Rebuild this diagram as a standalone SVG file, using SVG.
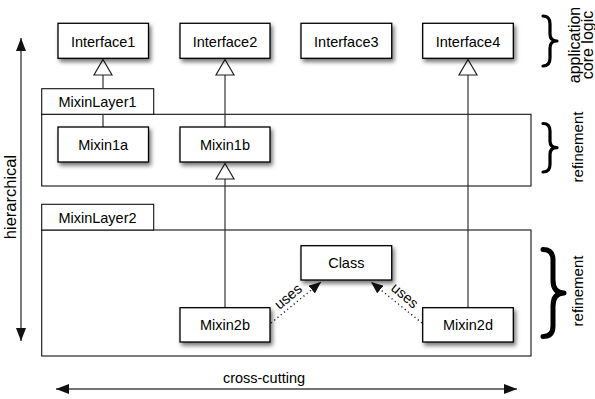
<svg xmlns="http://www.w3.org/2000/svg" width="595" height="399" viewBox="0 0 595 399">
<style>
text{font-family:"Liberation Sans",Arial,sans-serif;fill:#000}
.lbl{font-size:14.5px;text-anchor:middle}
.box{fill:#fff;stroke:#000;stroke-width:1.3;filter:url(#sh)}
.layer{fill:none;stroke:#111;stroke-width:1.1}
.tab{fill:#fff;stroke:#111;stroke-width:1.1}
.gen{fill:none;stroke:#333;stroke-width:1.2}
.tri{fill:#fff;stroke:#222;stroke-width:1.2}
.dot{fill:none;stroke:#222;stroke-width:1.4;stroke-dasharray:1.2 3}
.ax{fill:none;stroke:#444;stroke-width:1.4}
.brace{fill:none;stroke:#000;stroke-linecap:round;stroke-linejoin:round}
.side{text-anchor:middle}
</style>
<defs>
<filter id="sh" x="-20%" y="-30%" width="150%" height="180%">
<feDropShadow dx="2" dy="3" stdDeviation="2.2" flood-color="#000" flood-opacity="0.55"/>
</filter>
<marker id="fill" viewBox="0 0 12 10" refX="12" refY="5" markerWidth="12" markerHeight="10" markerUnits="userSpaceOnUse" orient="auto">
<path d="M0,0 L12,5 L0,10 Z" fill="#111"/>
</marker>
<marker id="ax" viewBox="0 0 13 10" refX="13" refY="5" markerWidth="13" markerHeight="10" markerUnits="userSpaceOnUse" orient="auto-start-reverse">
<path d="M0,0 L13,5 L0,10 Z" fill="#111"/>
</marker>
</defs>

<g id="MixinLayer1">
<rect class="layer" x="41.7" y="114.3" width="489.3" height="71.7"/>
<rect class="tab" x="41.7" y="88.7" width="112" height="25.6"/>
<text class="lbl" x="97.5" y="107.3">MixinLayer1</text>
</g>
<g id="MixinLayer2">
<rect class="layer" x="41.7" y="230" width="489.3" height="126"/>
<rect class="tab" x="41.7" y="204.3" width="112" height="25.7"/>
<text class="lbl" x="97.5" y="223.3">MixinLayer2</text>
</g>

<g id="connectors">
<path class="gen" d="M103,127 V114.3 M103,88.7 V75"/>
<path class="tri" d="M103,59.5 L112,75 L94,75 Z"/>
<path class="gen" d="M225,127 V75"/>
<path class="tri" d="M225,59.5 L234,75 L216,75 Z"/>
<path class="gen" d="M225,308 V179"/>
<path class="tri" d="M225,163.5 L234,179 L216,179 Z"/>
<path class="gen" d="M468,308 V75"/>
<path class="tri" d="M468,59.5 L477,75 L459,75 Z"/>
<path class="dot" d="M271,323 L321,282" marker-end="url(#fill)"/>
<path class="dot" d="M422,323 L371,282" marker-end="url(#fill)"/>
<text class="lbl" transform="translate(289,297.5) rotate(-40)" y="3.6">uses</text>
<text class="lbl" transform="translate(404,296.5) rotate(40)" y="3.6">uses</text>
</g>

<g id="Interface1"><rect class="box" x="58" y="23.3" width="90.5" height="35"/><text class="lbl" x="103.2" y="46.5">Interface1</text></g>
<g id="Interface2"><rect class="box" x="180" y="23.3" width="90" height="35"/><text class="lbl" x="225" y="46.5">Interface2</text></g>
<g id="Interface3"><rect class="box" x="301" y="23.3" width="90.7" height="35"/><text class="lbl" x="346.3" y="46.5">Interface3</text></g>
<g id="Interface4"><rect class="box" x="422.7" y="23.3" width="90.6" height="35"/><text class="lbl" x="468" y="46.5">Interface4</text></g>
<g id="Mixin1a"><rect class="box" x="58" y="127" width="90.5" height="35"/><text class="lbl" x="103.2" y="150">Mixin1a</text></g>
<g id="Mixin1b"><rect class="box" x="180" y="127" width="90" height="35"/><text class="lbl" x="225" y="150">Mixin1b</text></g>
<g id="Class"><rect class="box" x="301" y="245.7" width="90.7" height="34.3"/><text class="lbl" x="346.3" y="267.7">Class</text></g>
<g id="Mixin2b"><rect class="box" x="180" y="307.7" width="90" height="34.3"/><text class="lbl" x="225" y="330">Mixin2b</text></g>
<g id="Mixin2d"><rect class="box" x="422.7" y="307.7" width="90.6" height="34.3"/><text class="lbl" x="468" y="330">Mixin2d</text></g>

<g id="axes">
<path class="ax" d="M21,341 V38" marker-start="url(#ax)" marker-end="url(#ax)"/>
<path class="ax" d="M56,389 H517" marker-start="url(#ax)" marker-end="url(#ax)"/>
<text class="side" font-size="16.5" transform="translate(15.5,197) rotate(-90)">hierarchical</text>
<text class="lbl" font-size="15" x="264" y="382.5">cross-cutting</text>
</g>

<g id="braces">
<path class="brace" stroke-width="3.2" d="M543,16 Q550,16 550,24 V34 Q550,41 557,41 Q550,41 550,48 V58 Q550,66 543,66"/>
<path class="brace" stroke-width="3.2" d="M543,123.5 Q550,123.5 550,131 V141 Q550,147.7 557,147.7 Q550,147.7 550,154.5 V164.5 Q550,172 543,172"/>
<path class="brace" stroke-width="5" d="M543,249.5 Q553,249.5 553,260 V280 Q553,293 564,293 Q553,293 553,306 V326 Q553,336.5 543,336.5"/>
<text class="side" font-size="16" transform="translate(580,45) rotate(-90)">application</text>
<text class="side" font-size="16" transform="translate(592.5,45) rotate(-90)">core logic</text>
<text class="side" font-size="15" transform="translate(583,147) rotate(-90)">refinement</text>
<text class="side" font-size="15" transform="translate(583,291) rotate(-90)">refinement</text>
</g>
</svg>
